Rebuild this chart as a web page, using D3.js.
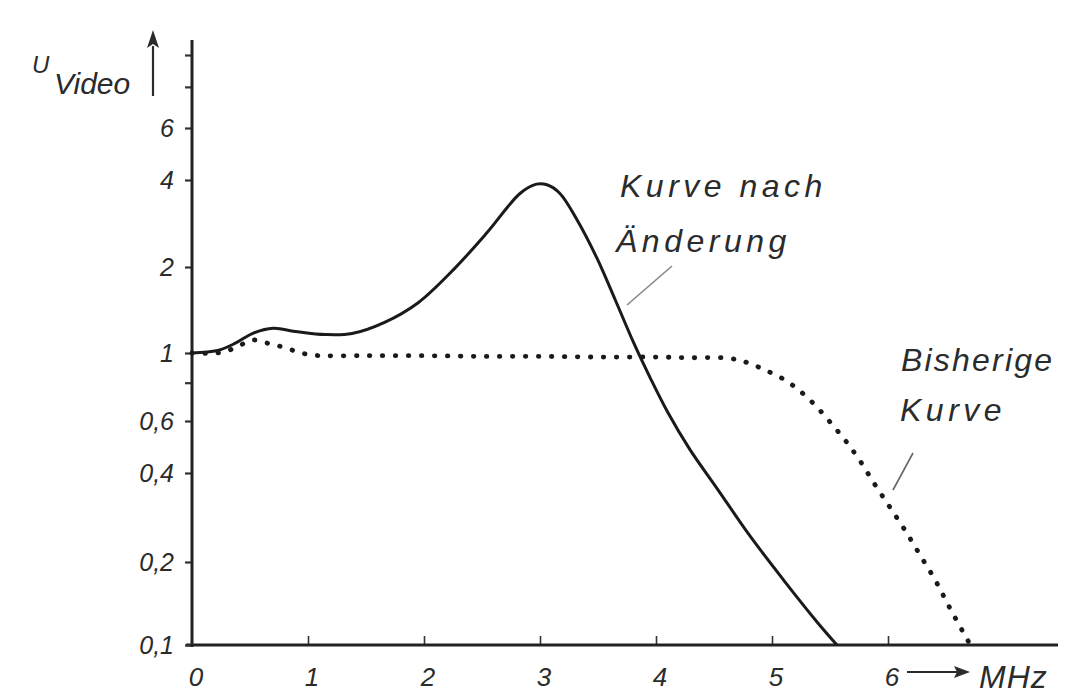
<!DOCTYPE html>
<html><head><meta charset="utf-8">
<script src="https://cdn.jsdelivr.net/npm/d3@7"></script>
<style>
html,body{margin:0;padding:0;background:#fff;}
svg text{font-family:"Liberation Sans","DejaVu Sans",sans-serif;font-style:italic;fill:#2b2b2b;}
</style></head>
<body>
<svg id="c" width="1065" height="694"></svg>
<script>
// ---- data ----
const freqSolid = [0,0.22,0.37,0.52,0.70,0.89,1.15,1.38,1.66,1.95,2.25,2.54,2.83,2.97,3.06,3.17,3.32,3.49,3.65,3.81,3.95,4.10,4.29,4.53,4.81,5.10,5.39,5.56];
const valSolid  = [1.0,1.02,1.08,1.17,1.22,1.19,1.16,1.17,1.28,1.50,1.95,2.62,3.6,3.87,3.85,3.6,2.91,2.15,1.53,1.08,0.83,0.642,0.482,0.353,0.245,0.172,0.121,0.10];
const freqDot = [0,0.22,0.37,0.52,0.66,0.78,0.91,1.03,1.5,2,2.5,3,3.5,4,4.3,4.61,4.77,4.94,5.11,5.24,5.37,5.50,5.63,5.76,5.89,6.02,6.15,6.28,6.41,6.53,6.66,6.71];
const valDot  = [1.0,1.0,1.04,1.11,1.08,1.05,1.01,0.985,0.98,0.98,0.975,0.975,0.97,0.97,0.965,0.963,0.935,0.88,0.817,0.752,0.677,0.595,0.517,0.439,0.364,0.305,0.255,0.210,0.171,0.137,0.109,0.10];
const xTicks = [0,1,2,3,4,5,6];
const xTickLabels = ["0","1","2","3","4","5","6"];
const yTicks = [0.1,0.2,0.4,0.6,0.8,1,2,4,6,8,10];
const yTickLabels = ["0,1","0,2","0,4","0,6","","1","2","4","6","",""];
const yAnchors = [0.1,0.2,0.4,0.6,1,2,4,6,10];

// ---- layout ----
const svg = d3.select("#c");
const x = d3.scaleLinear().domain([0,7.5]).range([192,1062]);
const y = d3.scaleLog().domain(yAnchors).range([645,562,473,421,353,267,180,128,55]);

// axes
const xAxis = d3.axisBottom(x).tickValues(xTicks.slice(1)).tickSize(-9).tickFormat("");
const gx = svg.append("g").attr("transform","translate(0,645)").call(xAxis);
gx.select(".domain").remove();
gx.selectAll(".tick line").attr("stroke","#333").attr("stroke-width",1.6);
svg.append("line").attr("x1",186).attr("x2",1058).attr("y1",645).attr("y2",645)
  .attr("stroke","#222").attr("stroke-width",3);

const yAxis = d3.axisLeft(y).tickValues(yTicks).tickSize(7).tickFormat("");
const gy = svg.append("g").attr("transform","translate(192,0)").call(yAxis);
gy.select(".domain").remove();
gy.selectAll(".tick line").attr("stroke","#333").attr("stroke-width",2.2);
svg.append("line").attr("x1",192).attr("x2",192).attr("y1",40).attr("y2",647)
  .attr("stroke","#222").attr("stroke-width",3);

// tick labels
svg.append("g").selectAll("text").data(xTicks).join("text")
  .attr("x",d=>x(d)+4).attr("y",686).attr("text-anchor","middle")
  .attr("font-size",26).text((d,i)=>xTickLabels[i]);
svg.append("g").selectAll("text").data(yTicks).join("text")
  .attr("x",174).attr("y",d=>y(d)+9).attr("text-anchor","end")
  .attr("font-size",25).text((d,i)=>yTickLabels[i]);

// MHz arrow
svg.append("line").attr("x1",907).attr("x2",958).attr("y1",672).attr("y2",672)
  .attr("stroke","#2b2b2b").attr("stroke-width",2);
svg.append("path").attr("d","M970,672 L954,666 L957,672 L954,678 Z").attr("fill","#2b2b2b");
svg.append("text").attr("x",979).attr("y",688).attr("font-size",32).attr("letter-spacing",1).text("MHz");

// y label and arrow
svg.append("line").attr("x1",153).attr("x2",153).attr("y1",46).attr("y2",96)
  .attr("stroke","#2b2b2b").attr("stroke-width",2.2);
svg.append("path").attr("d","M153,30 L147,48 L153,44 L159,48 Z").attr("fill","#2b2b2b");
svg.append("text").attr("x",32).attr("y",73).attr("font-size",24).text("U");
svg.append("text").attr("x",54).attr("y",94).attr("font-size",30).text("Video");

// curves
const line = d3.line().x(d=>x(d[0])).y(d=>y(d[1])).curve(d3.curveCatmullRom.alpha(0.5));
svg.append("path").datum(freqDot.map((f,i)=>[f,valDot[i]]))
  .attr("d",line).attr("fill","none").attr("stroke","#1a1a1a")
  .attr("stroke-width",4.8).attr("stroke-linecap","round").attr("stroke-dasharray","0.5 12.5");
svg.append("path").datum(freqSolid.map((f,i)=>[f,valSolid[i]]))
  .attr("d",line).attr("fill","none").attr("stroke","#1a1a1a").attr("stroke-width",3);

// annotations
const ann = [
  {t:"Kurve nach", x:620, y:197, ls:4.5},
  {t:"Änderung", x:616, y:252, ls:4.5},
  {t:"Bisherige", x:901, y:371, ls:2.2},
  {t:"Kurve", x:900, y:421, ls:4.5}
];
svg.append("g").selectAll("text").data(ann).join("text")
  .attr("x",d=>d.x).attr("y",d=>d.y).attr("font-size",32).attr("letter-spacing",d=>d.ls)
  .attr("fill","#3a3a3a").text(d=>d.t);
svg.append("line").attr("x1",672).attr("y1",266).attr("x2",627).attr("y2",305)
  .attr("stroke","#888").attr("stroke-width",1.6);
svg.append("line").attr("x1",913).attr("y1",453).attr("x2",893).attr("y2",490)
  .attr("stroke","#666").attr("stroke-width",1.6);
</script>
</body></html>
